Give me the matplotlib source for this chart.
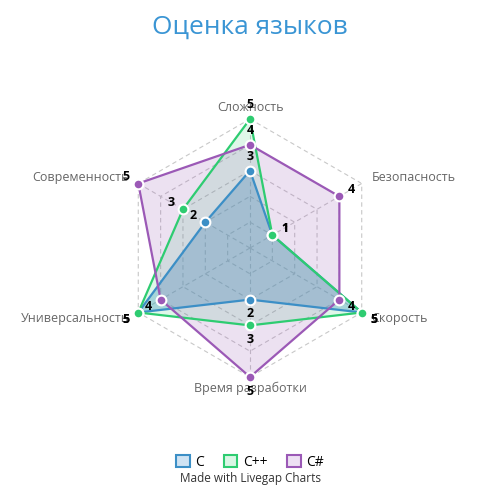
import numpy as np
import matplotlib.pyplot as plt
from matplotlib.patches import Patch

plt.rcParams['font.family'] = ['Open Sans', 'DejaVu Sans']

categories = ["Сложность", "Безопасность", "Скорость", "Время разработки",
              "Универсальность", "Современность"]
series_names = ["C", "C++", "C#"]
c_vals = [3, 1, 5, 2, 5, 2]
cpp_vals = [5, 1, 5, 3, 5, 3]
cs_vals = [4, 4, 4, 5, 4, 5]
levels = [1, 2, 3, 4, 5]

colors = ["#3c8fc6", "#2ecc71", "#9b59b6"]
fill_alpha = [0.35, 0.15, 0.18]
light_fill = ["#cfe3f3", "#d9f6e5", "#ede0f3"]

n = len(categories)
angles = np.linspace(0, 2 * np.pi, n, endpoint=False)
closed = np.append(angles, angles[0])

fig = plt.figure(figsize=(5, 5), dpi=100)
fig.text(0.5, 0.945, "Оценка языков", ha="center", va="center",
         fontsize=19, color="#3a95d4")

ax = fig.add_axes([0.242, 0.246, 0.516, 0.516], projection="polar")
ax.set_theta_offset(np.pi / 2)
ax.set_theta_direction(-1)
ax.set_ylim(0, 5)
ax.grid(False)
ax.spines["polar"].set_visible(False)
ax.set_xticks([])
ax.set_yticks([])
ax.patch.set_alpha(0)

# hexagon grid
for lv in levels:
    ax.plot(closed, [lv] * (n + 1), color="#c8c8c8", lw=0.8, ls=(0, (4, 3)), zorder=1)
for a in angles:
    ax.plot([a, a], [0, 5], color="#c8c8c8", lw=0.8, ls=(0, (4, 3)), zorder=1)

all_vals = [c_vals, cpp_vals, cs_vals]
for vals, col, al in zip(all_vals, colors, fill_alpha):
    v = np.append(vals, vals[0])
    ax.fill(closed, v, color=col, alpha=al, zorder=2, lw=0)
    ax.plot(closed, v, color=col, lw=1.6, zorder=3)
    ax.plot(angles, vals, "o", color=col, ms=7, mec="white", mew=1.5, zorder=4,
            clip_on=False)

for vals in all_vals:
    for a, v in zip(angles, vals):
        ax.text(a, v + 0.55, str(v), ha="center", va="center", fontsize=9,
                fontweight="bold", color="black", zorder=5, clip_on=False)

for a, lab in zip(angles, categories):
    s = np.sin(a)
    if abs(s) < 0.1:
        ha = "center"
    elif s > 0:
        ha = "left"
    else:
        ha = "right"
    ax.text(a, 5.43, lab, ha=ha, va="center", fontsize=9, color="#666666",
            zorder=4, clip_on=False)

handles = [Patch(facecolor=f, edgecolor=c, lw=1.5) for f, c in zip(light_fill, colors)]
fig.legend(handles, series_names, loc="center", bbox_to_anchor=(0.5, 0.076),
           ncol=3, frameon=False, fontsize=10, handlelength=1.0, handleheight=1.0,
           columnspacing=1.4, handletextpad=0.4)
fig.text(0.5, 0.043, "Made with Livegap Charts", ha="center", va="center",
         fontsize=8.5, color="#333333")

fig.savefig("out.png", dpi=100)
